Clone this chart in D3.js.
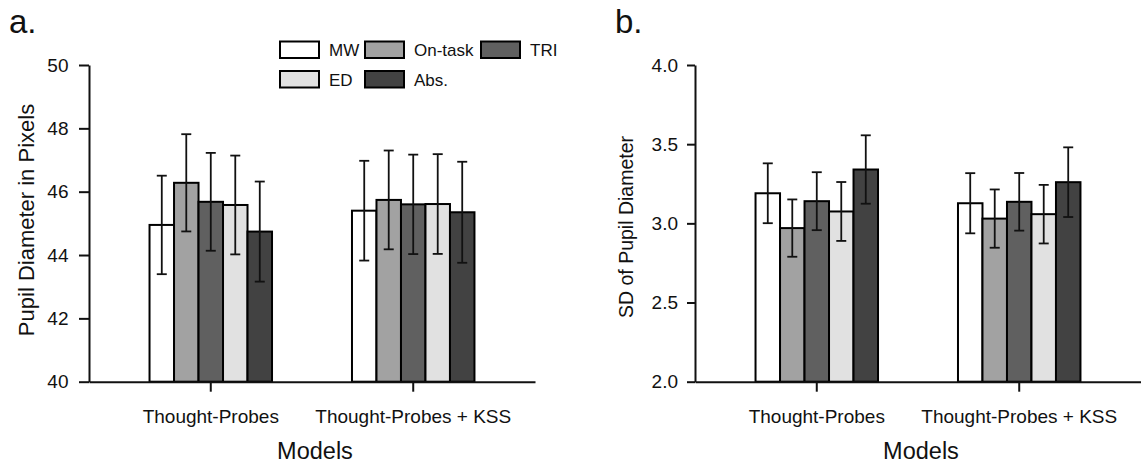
<!DOCTYPE html>
<html>
<head>
<meta charset="utf-8">
<script src="https://cdn.jsdelivr.net/npm/d3@7"></script>
<style>
  body { margin: 0; background: #fff; }
  svg { display: block; font-family: "Liberation Sans", Arial, sans-serif; }
</style>
</head>
<body>
<div id="chart"></div>
<script>
// data
var models = ["Thought-Probes", "Thought-Probes + KSS"];
var states = ["MW", "On-task", "TRI", "ED", "Abs."];
var stateColors = ["#ffffff", "#a2a2a2", "#606060", "#e1e1e1", "#424242"];

// panel a: pupil diameter (pixels), mean and error per model
var pupilMeanTP = [44.95, 46.28, 45.68, 45.58, 44.74];
var pupilMeanKSS = [45.40, 45.74, 45.60, 45.61, 45.35];
var pupilErrTP = [1.555, 1.535, 1.545, 1.56, 1.58];
var pupilErrKSS = [1.575, 1.56, 1.57, 1.575, 1.595];
var pupilTicks = [40, 42, 44, 46, 48, 50];

// panel b: SD of pupil diameter
var sdMeanTP = [3.19, 2.97, 3.14, 3.075, 3.34];
var sdMeanKSS = [3.127, 3.03, 3.136, 3.058, 3.26];
var sdErrTP = [0.189, 0.181, 0.183, 0.186, 0.216];
var sdErrKSS = [0.19, 0.184, 0.182, 0.185, 0.22];
var sdTicks = [2.0, 2.5, 3.0, 3.5, 4.0];

var svgWidth = 1141;
var svgHeight = 469;

var svg = d3.select("#chart")
  .append("svg")
  .attr("width", svgWidth)
  .attr("height", svgHeight);

function buildRows(meanTP, meanKSS, errTP, errKSS) {
  var rows = [];
  [[meanTP, errTP], [meanKSS, errKSS]].forEach(function(pair, m) {
    states.forEach(function(s, i) {
      rows.push({ model: models[m], state: s, mean: pair[0][i], err: pair[1][i], color: stateColors[i] });
    });
  });
  return rows;
}

function drawPanel(opt) {
  var g = svg.append("g");

  var x0 = d3.scaleBand()
    .domain(models)
    .range([opt.left, opt.right])
    .paddingInner(0.395)
    .paddingOuter(0.299);

  var x1 = d3.scaleBand()
    .domain(states)
    .range([0, x0.bandwidth()]);

  var y = d3.scaleLinear()
    .domain(opt.domain)
    .range([381.7, 65]);

  // bars
  g.selectAll("rect.bar")
    .data(opt.rows)
    .enter()
    .append("rect")
    .attr("class", "bar")
    .attr("x", d => x0(d.model) + x1(d.state))
    .attr("y", d => y(d.mean))
    .attr("width", x1.bandwidth())
    .attr("height", d => y(opt.domain[0]) - y(d.mean))
    .attr("fill", d => d.color)
    .attr("stroke", "#000")
    .attr("stroke-width", 2);

  // error bars
  var eb = g.selectAll("g.err")
    .data(opt.rows)
    .enter()
    .append("g")
    .attr("class", "err")
    .attr("stroke", "#111")
    .attr("stroke-width", 1.8);

  var cx = d => x0(d.model) + x1(d.state) + x1.bandwidth() / 2;
  eb.append("line")
    .attr("x1", cx).attr("x2", cx)
    .attr("y1", d => y(d.mean + d.err))
    .attr("y2", d => y(d.mean - d.err));
  eb.append("line")
    .attr("x1", d => cx(d) - 5).attr("x2", d => cx(d) + 5)
    .attr("y1", d => y(d.mean + d.err)).attr("y2", d => y(d.mean + d.err));
  eb.append("line")
    .attr("x1", d => cx(d) - 5).attr("x2", d => cx(d) + 5)
    .attr("y1", d => y(d.mean - d.err)).attr("y2", d => y(d.mean - d.err));

  // axes
  var leftAxis = d3.axisLeft(y)
    .tickValues(opt.ticks)
    .tickFormat(opt.format)
    .tickSize(opt.tickLen)
    .tickSizeOuter(0)
    .tickPadding(opt.tickPad);

  var yAxis = g.append("g")
    .attr("transform", `translate(${opt.left}, 0)`)
    .call(leftAxis);
  yAxis.selectAll("text").attr("font-size", 19).attr("fill", "#111").attr("font-family", null);

  var bottomAxis = d3.axisBottom(x0)
    .tickSize(10)
    .tickSizeOuter(0)
    .tickPadding(18);

  var xAxis = g.append("g")
    .attr("transform", `translate(0, ${y(opt.domain[0])})`)
    .call(bottomAxis);
  xAxis.selectAll("text").attr("font-size", 19).attr("fill", "#111").attr("font-family", null);

  svg.selectAll(".domain, .tick line").attr("stroke", "#111").attr("stroke-width", 2);

  // axis titles
  var mid = (x0(models[0]) + x0(models[1]) + x0.bandwidth()) / 2;
  g.append("text")
    .attr("x", mid + 3)
    .attr("y", 459)
    .attr("text-anchor", "middle")
    .attr("font-size", 23.5)
    .attr("fill", "#111")
    .text("Models");

  g.append("text")
    .attr("transform", `translate(${opt.titleX}, ${opt.titleY}) rotate(-90)`)
    .attr("text-anchor", "middle")
    .attr("font-size", opt.titleSize)
    .attr("fill", "#111")
    .text(opt.title);

  g.append("text")
    .attr("x", opt.labelX)
    .attr("y", 33)
    .attr("font-size", 33)
    .attr("fill", "#111")
    .text(opt.label);
}

drawPanel({
  left: 89, right: 535,
  domain: [40, 50],
  ticks: pupilTicks,
  format: d3.format("d"),
  tickLen: 10, tickPad: 10.5,
  rows: buildRows(pupilMeanTP, pupilMeanKSS, pupilErrTP, pupilErrKSS),
  title: "Pupil Diameter in Pixels",
  titleX: 34, titleY: 220, titleSize: 22,
  label: "a.", labelX: 9
});

drawPanel({
  left: 695, right: 1141,
  domain: [2, 4],
  ticks: sdTicks,
  format: d3.format(".1f"),
  tickLen: 8, tickPad: 9,
  rows: buildRows(sdMeanTP, sdMeanKSS, sdErrTP, sdErrKSS),
  title: "SD of Pupil Diameter",
  titleX: 633, titleY: 227, titleSize: 19.5,
  label: "b.", labelX: 615
});

// legend (panel a)
var legendX = [280, 365, 481, 280, 365];
var legendY = [41.5, 41.5, 41.5, 71, 71];
var legend = svg.append("g");
var items = legend.selectAll("g")
  .data(states)
  .enter()
  .append("g")
  .attr("transform", (d, i) => `translate(${legendX[i]}, ${legendY[i]})`);

items.append("rect")
  .attr("width", 39)
  .attr("height", 16.5)
  .attr("fill", (d, i) => stateColors[i])
  .attr("stroke", "#000")
  .attr("stroke-width", 2);

items.append("text")
  .attr("x", 49)
  .attr("y", 14.5)
  .attr("font-size", 17)
  .attr("fill", "#111")
  .text(d => d);
</script>
</body>
</html>
